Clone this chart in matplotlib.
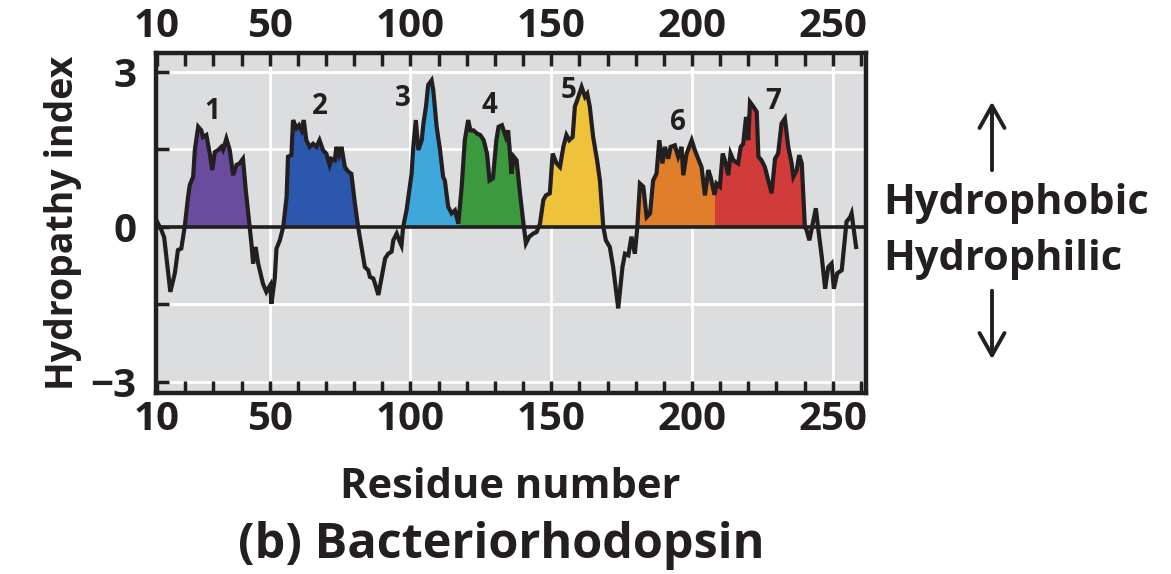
import numpy as np
import matplotlib
matplotlib.use("Agg")
import matplotlib.pyplot as plt
from matplotlib.ticker import FixedLocator, MultipleLocator

# ---------------------------------------------------
# Hydropathy profile
# ---------------------------------------------------
residue = [
    10.0, 11.5, 12.5, 14.7, 16.3, 17.4, 18.6, 19.8, 21.0, 21.6, 22.8, 23.4, 24.6, 25.7, 26.3,
    27.5, 28.7, 29.6, 30.5, 31.7, 32.8, 33.4, 34.6, 35.8, 37.0, 38.2, 39.3, 40.5, 41.5, 42.9,
    43.5, 44.1, 45.0, 45.9, 47.6, 48.8, 50.2, 50.6, 51.8, 52.4, 53.6, 54.8, 56.0, 56.5, 57.7,
    58.3, 59.5, 60.4, 61.3, 62.1, 63.0, 64.2, 65.4, 66.6, 67.7, 68.9, 70.1, 71.3, 71.9, 73.1,
    73.7, 74.6, 75.5, 76.7, 77.9, 79.0, 80.2, 81.4, 82.6, 83.8, 85.0, 85.6, 86.8, 87.4, 88.6,
    89.8, 91.0, 92.1, 93.3, 93.9, 95.1, 96.0, 96.8, 97.4, 98.6, 100.4, 101.0, 101.9, 102.8, 104.0,
    104.6, 105.5, 106.3, 107.5, 108.1, 109.3, 110.5, 111.6, 112.2, 113.4, 114.6, 115.8, 117.0, 118.2,
    119.3, 120.5, 121.3, 122.4, 123.6, 124.8, 126.0, 127.2, 128.1, 129.3, 130.5, 131.3, 132.5, 133.9,
    134.7, 135.9, 136.7, 137.7, 138.9, 140.0, 141.0, 142.2, 143.6, 144.8, 146.0, 147.2, 148.1, 149.5,
    150.5, 151.9, 153.1, 154.3, 155.4, 156.4, 157.6, 158.4, 159.2, 160.8, 162.0, 162.8, 163.7, 164.9,
    166.3, 167.3, 168.5, 169.4, 170.8, 172.0, 173.8, 175.3, 176.2, 177.4, 178.5, 179.7, 180.6, 181.5,
    182.7, 183.9, 185.1, 186.2, 187.4, 188.4, 189.5, 190.4, 191.6, 192.4, 193.9, 195.1, 196.3, 196.9,
    198.1, 199.9, 201.0, 202.2, 203.4, 204.6, 205.8, 206.6, 208.0, 208.7, 209.9, 210.9, 211.7, 212.9,
    213.7, 214.7, 216.4, 217.3, 218.2, 219.2, 220.0, 220.6, 221.8, 223.0, 223.6, 224.7, 225.9, 227.1,
    228.3, 229.5, 230.6, 231.8, 233.0, 234.2, 235.4, 236.0, 237.2, 238.1, 239.0, 240.1, 240.7, 241.7,
    242.9, 244.0, 244.9, 246.1, 247.3, 248.4, 249.6, 250.4, 251.6, 253.2, 254.0, 254.9, 256.2, 256.7,
    258.3,
]
hydropathy = [
    0.10, -0.06, -0.20, -1.26, -0.90, -0.45, -0.42, 0.00, 0.58, 0.81, 0.97, 1.49, 1.94, 1.87, 1.74,
    1.78, 1.42, 1.10, 1.45, 1.49, 1.55, 1.49, 1.71, 1.49, 1.00, 1.20, 1.23, 1.32, 0.71, 0.00,
    -0.32, -0.71, -0.39, -0.71, -1.10, -1.26, -1.13, -1.49, -1.00, -0.42, -0.26, 0.00, 0.58, 1.36, 1.39,
    2.07, 1.91, 1.97, 1.87, 2.07, 1.68, 1.55, 1.61, 1.55, 1.68, 1.49, 1.42, 1.20, 1.32, 1.29,
    1.55, 1.39, 1.55, 1.16, 1.07, 1.03, 0.48, 0.00, -0.39, -0.78, -0.84, -0.97, -1.00, -1.10, -1.32,
    -0.97, -0.61, -0.52, -0.48, -0.26, -0.13, -0.26, -0.36, 0.00, 0.32, 1.03, 1.55, 2.07, 1.49, 1.68,
    2.00, 2.33, 2.75, 2.84, 2.65, 1.94, 1.49, 0.97, 0.90, 0.39, 0.26, 0.32, 0.06, 0.78,
    1.68, 2.07, 1.87, 1.87, 1.81, 1.78, 1.68, 1.42, 0.90, 0.94, 1.68, 1.94, 1.97, 1.74,
    1.87, 1.03, 1.36, 1.29, 0.65, 0.13, -0.32, -0.19, -0.13, -0.10, 0.06, 0.52, 0.61, 0.65,
    1.42, 1.23, 1.16, 1.55, 1.78, 1.68, 1.74, 2.33, 2.45, 2.71, 2.52, 2.58, 2.33, 1.74,
    1.29, 0.90, 0.00, -0.26, -0.39, -0.78, -1.58, -0.78, -0.52, -0.55, -0.19, -0.52, 0.00, 0.84,
    0.78, 0.19, 0.26, 0.90, 1.03, 1.68, 1.23, 1.55, 1.32, 1.55, 1.58, 1.36, 1.55, 1.00,
    1.42, 1.68, 1.49, 1.32, 1.16, 0.61, 1.10, 0.97, 0.62, 0.84, 0.78, 1.42, 1.29, 1.00,
    1.42, 1.29, 1.23, 1.55, 1.61, 2.13, 1.68, 2.42, 2.33, 2.23, 1.36, 1.29, 1.16, 0.90,
    0.65, 1.32, 1.42, 2.00, 2.10, 1.55, 1.23, 0.97, 1.10, 1.39, 1.23, 0.00, -0.06, -0.26,
    0.06, 0.36, -0.06, -0.58, -1.20, -0.78, -0.71, -1.20, -0.90, -0.84, -0.39, 0.10, 0.19, 0.26,
    -0.39,
]

# transmembrane segments: label, start, end, colour, label position
helix_names = ["1", "2", "3", "4", "5", "6", "7"]
helix_start = [19.8, 54.8, 97.4, 117.0, 146.0, 180.6, 208.0]
helix_end = [42.9, 81.4, 117.0, 140.0, 168.5, 208.0, 240.1]
helix_colors = ["#6a4c9f", "#2b58ac", "#3ea7dc", "#3b9a3d", "#eec23a", "#e07e2c", "#d13b39"]
label_x = [29.7, 67.8, 97.4, 127.9, 156.0, 195.1, 228.9]
label_y = [2.23, 2.33, 2.49, 2.36, 2.65, 2.03, 2.42]

x_labels = [10, 50, 100, 150, 200, 250]

x = np.array(residue)
y = np.array(hydropathy)

plt.rcParams["font.family"] = ["Open Sans", "DejaVu Sans"]
plt.rcParams["font.weight"] = "bold"
plt.rcParams["axes.labelweight"] = "bold"
ink = "#231f20"

fig = plt.figure(figsize=(11.71, 5.74), dpi=100)
ax = fig.add_axes([0.1332, 0.3153, 0.6063, 0.5924])
ax.set_facecolor("#dcdddf")

# grid
for gx in [50, 100, 150, 200, 250]:
    ax.axvline(gx, color="white", lw=2, zorder=1)
for gy in [-3, -1.5, 1.5, 3]:
    ax.axhline(gy, color="white", lw=2, zorder=1)

# coloured helices
for s, e, c in zip(helix_start, helix_end, helix_colors):
    mask = (x >= s) & (x <= e) & (y >= 0)
    ax.fill_between(x, 0, y, where=mask, interpolate=True, color=c, lw=0, zorder=2)

ax.axhline(0, color=ink, lw=2.6, zorder=3)
ax.plot(x, y, color=ink, lw=3.0, zorder=4, solid_joinstyle="miter")

for name, lx, ly in zip(helix_names, label_x, label_y):
    ax.text(lx, ly, name, ha="center", va="center", fontsize=20, color=ink, zorder=5)

ax.set_xlim(9.6, 261.8)
ax.set_ylim(-3.22, 3.37)

ax.xaxis.set_major_locator(FixedLocator(x_labels))
ax.xaxis.set_minor_locator(MultipleLocator(10))
ax.set_xticklabels([str(v) for v in x_labels])
ax.yaxis.set_major_locator(FixedLocator([-3, 0, 3]))
ax.yaxis.set_minor_locator(FixedLocator([-1.5, 1.5]))
ax.set_yticklabels(["\u22123", "0", "3"])

ax.tick_params(axis="x", which="both", direction="in", top=True, bottom=True,
               labeltop=True, length=9, width=2.5, color=ink)
ax.tick_params(axis="x", which="major", labelsize=29, labelcolor=ink, pad=5)
ax.tick_params(axis="y", which="both", direction="in", left=True, right=False,
               length=9, width=2.5, color=ink)
ax.tick_params(axis="y", which="major", labelsize=29, labelcolor=ink, pad=14)
for sp in ax.spines.values():
    sp.set_linewidth(3.2)
    sp.set_color(ink)

ax.set_ylabel("Hydropathy index", fontsize=27, color=ink, labelpad=6)

fig.text(510 / 1171, 1 - 487 / 574, "Residue number", ha="center", va="center",
         fontsize=30, color=ink)
fig.text(501 / 1171, 1 - 546 / 574, "(b) Bacteriorhodopsin", ha="center", va="center",
         fontsize=35, color=ink)

fig.text(883 / 1171, 1 - 203 / 574, "Hydrophobic", ha="left", va="center", fontsize=30, color=ink)
fig.text(883 / 1171, 1 - 259 / 574, "Hydrophilic", ha="left", va="center", fontsize=30, color=ink)

arrow_style = "->,head_length=1.6,head_width=0.9"
ax.annotate("", xy=(992 / 1171, 1 - 99 / 574), xytext=(992 / 1171, 1 - 173 / 574),
            xycoords="figure fraction", textcoords="figure fraction",
            arrowprops=dict(arrowstyle=arrow_style, color=ink, lw=2.8))
ax.annotate("", xy=(992 / 1171, 1 - 362 / 574), xytext=(992 / 1171, 1 - 288 / 574),
            xycoords="figure fraction", textcoords="figure fraction",
            arrowprops=dict(arrowstyle=arrow_style, color=ink, lw=2.8))

fig.savefig("out.png", dpi=100)
